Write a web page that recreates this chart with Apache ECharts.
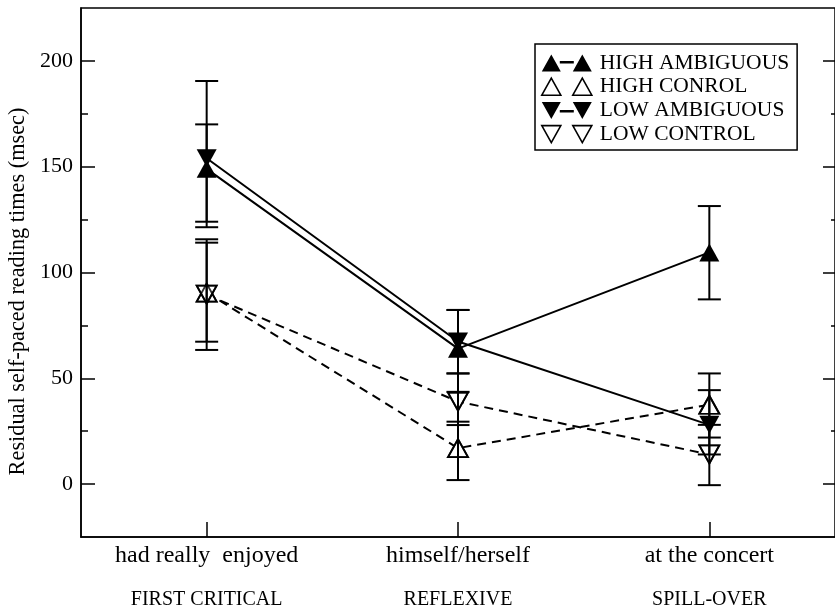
<!DOCTYPE html>
<html>
<head>
<meta charset="utf-8">
<script src="https://cdn.jsdelivr.net/npm/echarts@6/dist/echarts.min.js"></script>
<style>
html,body{margin:0;padding:0;background:#fff;}
#chart{width:835px;height:607px;}
</style>
</head>
<body>
<div id="chart"></div>
<script>
// ---- data ----
const categories = ['had really  enjoyed', 'himself/herself', 'at the concert'];
const regions = ['FIRST CRITICAL', 'REFLEXIVE', 'SPILL-OVER'];
const seriesNames = ['HIGH AMBIGUOUS', 'HIGH CONROL', 'LOW AMBIGUOUS', 'LOW CONTROL'];

const highAmbiguous = [149, 64, 109.5];
const highAmbiguousLow = [124, 43.6, 87.3];
const highAmbiguousHigh = [170, 82.3, 131.4];

const highControl = [90.5, 17, 37.5];
const highControlLow = [63.4, 1.9, 22];
const highControlHigh = [115.7, 29.5, 52.3];

const lowAmbiguous = [154, 67.4, 28];
const lowAmbiguousLow = [121.4, 52.3, 14];
const lowAmbiguousHigh = [190.5, 82.3, 44.4];

const lowControl = [89.5, 39, 14];
const lowControlLow = [67.3, 27.9, -0.5];
const lowControlHigh = [114.1, 52.3, 28];

const yMajorTicks = [0, 50, 100, 150, 200];
const yMinorTicks = [25, 75, 125, 175];
const yMin = -25, yMax = 225;

// ---- chart ----
const FONT = 'Liberation Serif';
const chart = echarts.init(document.getElementById('chart'));

function errData(lo, hi) {
  return lo.map((v, i) => [i, v, hi[i]]);
}
function renderErr(params, api) {
  const x = api.value(0);
  const pLo = api.coord([x, api.value(1)]);
  const pHi = api.coord([x, api.value(2)]);
  const w = 11.5;
  const style = { stroke: '#000', lineWidth: 2, fill: null };
  return {
    type: 'group',
    children: [
      { type: 'line', shape: { x1: pLo[0], y1: pLo[1], x2: pHi[0], y2: pHi[1] }, style },
      { type: 'line', shape: { x1: pLo[0] - w, y1: pLo[1], x2: pLo[0] + w, y2: pLo[1] }, style },
      { type: 'line', shape: { x1: pHi[0] - w, y1: pHi[1], x2: pHi[0] + w, y2: pHi[1] }, style }
    ]
  };
}
function errSeries(lo, hi) {
  return {
    type: 'custom', renderItem: renderErr, data: errData(lo, hi),
    encode: { x: 0, y: [1, 2] }, z: 5, silent: true
  };
}
const symSize = [20, 18];

const iconHA = 'path://M0,17L9.5,0L19,17Z M18,6.5L32,6.5L32,9L18,9Z M31,17L40.5,0L50,17Z';
const iconHC = 'path://M0,17L9.5,0L19,17Z M31,17L40.5,0L50,17Z';
const iconLA = 'path://M0,0L19,0L9.5,17Z M18,8L32,8L32,10.5L18,10.5Z M31,0L50,0L40.5,17Z';
const iconLC = 'path://M0,0L19,0L9.5,17Z M31,0L50,0L40.5,17Z';

const yAxisBase = {
  type: 'value', min: yMin, max: yMax, splitLine: { show: false },
  axisLine: { show: false }, axisLabel: { show: false }
};

const option = {
  animation: false,
  backgroundColor: '#fff',
  textStyle: { fontFamily: FONT, color: '#000' },
  grid: {
    left: 81, right: 0, top: 8, bottom: 70,
    containLabel: false, outerBoundsMode: 'none',
    show: true, borderColor: '#000', borderWidth: 1.5, backgroundColor: 'transparent'
  },
  legend: {
    orient: 'vertical', left: 535, top: 44,
    itemWidth: 50, itemHeight: 17, itemGap: 1.7,
    padding: [8, 8, 5, 6],
    borderColor: '#000', borderWidth: 1.5,
    selectedMode: false,
    textStyle: { fontFamily: FONT, fontSize: 21.5, color: '#000', padding: [0, 0, 0, 3] },
    data: [
      { name: seriesNames[0], icon: iconHA, itemStyle: { color: '#000', borderWidth: 0 } },
      { name: seriesNames[1], icon: iconHC, itemStyle: { color: '#fff', borderColor: '#000', borderWidth: 1.6 } },
      { name: seriesNames[2], icon: iconLA, itemStyle: { color: '#000', borderWidth: 0 } },
      { name: seriesNames[3], icon: iconLC, itemStyle: { color: '#fff', borderColor: '#000', borderWidth: 1.6 } }
    ]
  },
  xAxis: {
    type: 'category', data: categories, boundaryGap: true,
    axisLine: { show: true, onZero: false, lineStyle: { color: '#000', width: 1.5 } },
    axisTick: { show: true, inside: true, length: 15, alignWithLabel: true, lineStyle: { color: '#000', width: 1.5 } },
    splitLine: { show: false },
    axisLabel: {
      interval: 0, margin: 4, color: '#000',
      formatter: (val, idx) => '{a|' + val + '}\n{b|' + regions[idx] + '}',
      rich: {
        a: { fontFamily: FONT, fontSize: 24, lineHeight: 30, color: '#000' },
        b: { fontFamily: FONT, fontSize: 20, lineHeight: 58, color: '#000' }
      }
    }
  },
  yAxis: [
    Object.assign({}, yAxisBase, {
      position: 'left',
      axisLine: { show: true, onZero: false, lineStyle: { color: '#000', width: 1.5 } },
      axisTick: { show: true, inside: true, length: 14, customValues: yMajorTicks, lineStyle: { color: '#000', width: 1.5 } },
      axisLabel: { show: true, customValues: yMajorTicks, fontFamily: FONT, fontSize: 22, color: '#000', margin: 8 },
      name: 'Residual self-paced reading times (msec)',
      nameLocation: 'middle', nameGap: 47, nameRotate: 90,
      nameTextStyle: { fontFamily: FONT, fontSize: 22.3, color: '#000', padding: [0, 38, 0, 0] }
    }),
    Object.assign({}, yAxisBase, {
      position: 'left',
      axisTick: { show: true, inside: true, length: 7, customValues: yMinorTicks, lineStyle: { color: '#000', width: 1.5 } }
    }),
    Object.assign({}, yAxisBase, {
      position: 'right',
      axisTick: { show: true, inside: true, length: 12, customValues: yMajorTicks, lineStyle: { color: '#000', width: 1.5 } }
    }),
    Object.assign({}, yAxisBase, {
      position: 'right',
      axisTick: { show: true, inside: true, length: 4, customValues: yMinorTicks, lineStyle: { color: '#000', width: 1.5 } }
    })
  ],
  series: [
    {
      name: seriesNames[0], type: 'line', data: highAmbiguous,
      symbol: 'triangle', symbolSize: symSize,
      lineStyle: { color: '#000', width: 2 }, itemStyle: { color: '#000' }, z: 3
    },
    {
      name: seriesNames[2], type: 'line', data: lowAmbiguous,
      symbol: 'triangle', symbolSize: symSize, symbolRotate: 180,
      lineStyle: { color: '#000', width: 2 }, itemStyle: { color: '#000' }, z: 3
    },
    {
      name: seriesNames[1], type: 'line', data: highControl,
      symbol: 'triangle', symbolSize: symSize,
      lineStyle: { color: '#000', width: 2, type: [9, 6] },
      itemStyle: { color: '#fff', borderColor: '#000', borderWidth: 1.8 }, z: 2
    },
    {
      name: seriesNames[3], type: 'line', data: lowControl,
      symbol: 'triangle', symbolSize: symSize, symbolRotate: 180,
      lineStyle: { color: '#000', width: 2, type: [9, 6] },
      itemStyle: { color: '#fff', borderColor: '#000', borderWidth: 1.8 }, z: 2
    },
    // outline-only copies so overlapping open triangles both show their edges
    {
      type: 'scatter', data: highControl, symbol: 'triangle', symbolSize: symSize, silent: true,
      itemStyle: { color: 'rgba(0,0,0,0)', borderColor: '#000', borderWidth: 1.8 }, z: 4
    },
    {
      type: 'scatter', data: lowControl, symbol: 'triangle', symbolSize: symSize, symbolRotate: 180, silent: true,
      itemStyle: { color: 'rgba(0,0,0,0)', borderColor: '#000', borderWidth: 1.8 }, z: 4
    },
    errSeries(highAmbiguousLow, highAmbiguousHigh),
    errSeries(lowAmbiguousLow, lowAmbiguousHigh),
    errSeries(highControlLow, highControlHigh),
    errSeries(lowControlLow, lowControlHigh)
  ]
};
chart.setOption(option);
</script>
</body>
</html>
